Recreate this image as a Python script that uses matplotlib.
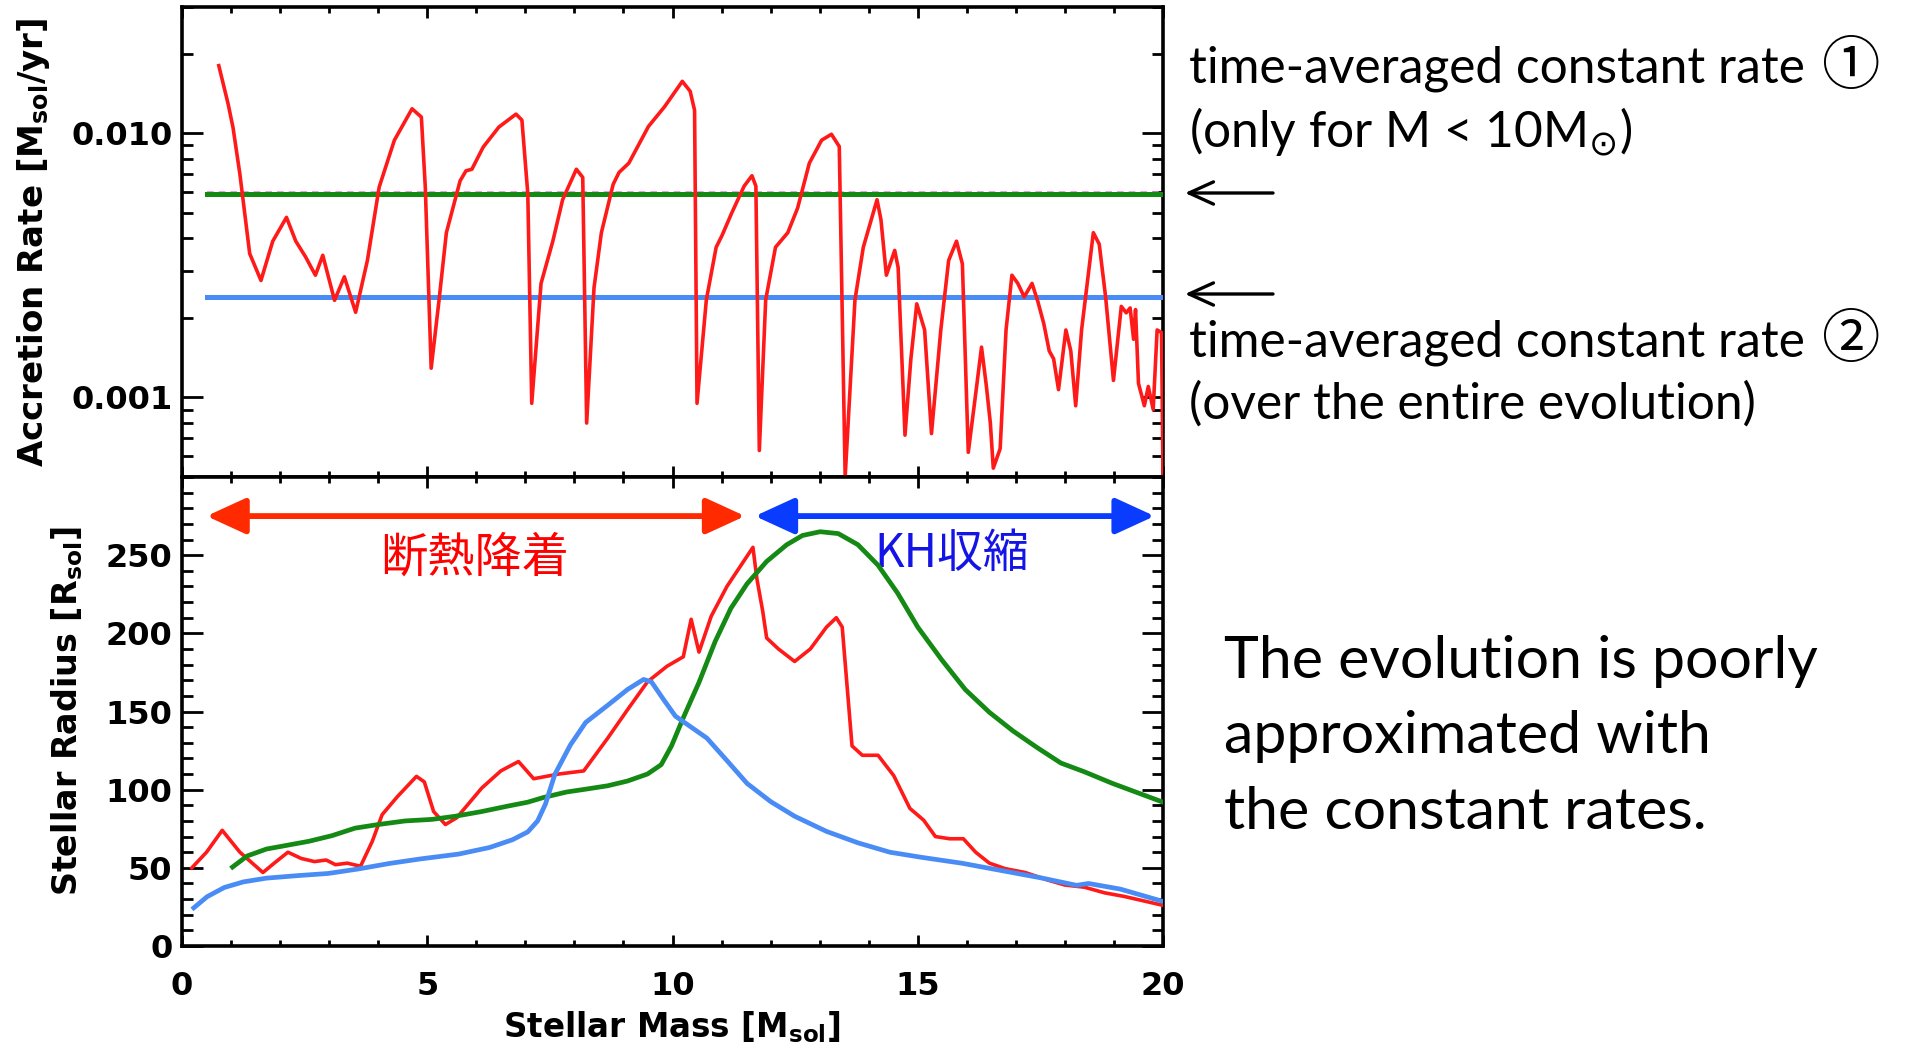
import matplotlib.pyplot as plt
from matplotlib.ticker import MultipleLocator, LogLocator, FixedLocator, NullFormatter
from matplotlib.patches import FancyArrowPatch

# ---- top panel: accretion rate [Msun/yr] vs stellar mass [Msun]
rate_mass = [0.75, 0.94, 1.04, 1.18, 1.38, 1.61, 1.85, 2.13, 2.32, 2.52, 2.72, 2.87, 3.11, 3.31,
             3.54, 3.78, 4.02, 4.33, 4.69, 4.88, 4.96, 5.08, 5.24, 5.39, 5.67, 5.79, 5.91, 6.14,
             6.46, 6.81, 6.93, 7.05, 7.13, 7.32, 7.56, 7.76, 8.04, 8.17, 8.25, 8.40, 8.55, 8.79,
             8.91, 9.11, 9.51, 9.84, 10.20, 10.36, 10.45, 10.50, 10.69, 10.89, 11.01, 11.21,
             11.46, 11.62, 11.70, 11.77, 11.90, 12.10, 12.35, 12.55, 12.79, 13.04, 13.24, 13.40,
             13.52, 13.72, 13.89, 14.17, 14.25, 14.36, 14.53, 14.60, 14.74, 14.86, 14.98, 15.14,
             15.28, 15.47, 15.63, 15.79, 15.91, 16.03, 16.20, 16.30, 16.40, 16.48, 16.54, 16.68,
             16.80, 16.92, 17.04, 17.17, 17.33, 17.45, 17.57, 17.68, 17.77, 17.87, 18.02, 18.12,
             18.22, 18.34, 18.58, 18.70, 18.83, 18.99, 19.15, 19.25, 19.33, 19.40, 19.44, 19.50,
             19.62, 19.70, 19.80, 19.88, 19.97, 20.0]
rate_val = [0.0180, 0.0129, 0.0105, 0.0070, 0.0035, 0.00277, 0.0039, 0.0048, 0.0039, 0.0034,
            0.0029, 0.00345, 0.00233, 0.00286, 0.0021, 0.0033, 0.00625, 0.0094, 0.01236, 0.0115,
            0.00625, 0.00129, 0.00233, 0.0042, 0.0066, 0.0072, 0.0073, 0.00885, 0.01054, 0.0118,
            0.0112, 0.0059, 0.00095, 0.0027, 0.0039, 0.0056, 0.0073, 0.0068, 0.0008, 0.0026,
            0.0042, 0.0064, 0.0071, 0.0077, 0.0106, 0.0126, 0.0157, 0.0144, 0.0122, 0.00095,
            0.00234, 0.0037, 0.0041, 0.0050, 0.0063, 0.0069, 0.0063, 0.00063, 0.00234, 0.0037,
            0.0042, 0.0052, 0.0077, 0.0094, 0.0099, 0.0089, 0.0005, 0.00234, 0.0037, 0.0056,
            0.0047, 0.0029, 0.0036, 0.0031, 0.00072, 0.0014, 0.00226, 0.0018, 0.00073, 0.0018,
            0.0033, 0.0039, 0.0032, 0.00062, 0.0011, 0.00155, 0.0011, 0.0008, 0.00054, 0.00064,
            0.0018, 0.0029, 0.0027, 0.0024, 0.0027, 0.0023, 0.0019, 0.0015, 0.0014, 0.00107,
            0.0018, 0.0015, 0.00093, 0.0018, 0.0042, 0.0038, 0.0024, 0.00116, 0.00221, 0.00209,
            0.00218, 0.00166, 0.00215, 0.00113, 0.00093, 0.0011, 0.0009, 0.0018, 0.00176, 0.0005]
const_mass = [0.5, 20.0]
rate_const1 = [0.0059, 0.0059]   # time-averaged, M < 10 Msun
rate_const2 = [0.0024, 0.0024]   # time-averaged, entire evolution

# ---- bottom panel: stellar radius [Rsun]
red_mass = [0.2, 0.5, 0.82, 1.18, 1.65, 1.88, 2.16, 2.43, 2.7, 2.94, 3.13, 3.37, 3.64, 3.88,
            4.08, 4.39, 4.78, 4.94, 5.13, 5.37, 5.6, 6.11, 6.5, 6.86, 7.17, 7.68, 8.19, 8.68,
            9.08, 9.49, 9.89, 10.22, 10.38, 10.54, 10.79, 11.11, 11.47, 11.64, 11.72, 11.84,
            11.92, 12.16, 12.49, 12.81, 13.14, 13.34, 13.46, 13.66, 13.87, 14.19, 14.51, 14.84,
            15.12, 15.36, 15.65, 15.93, 16.18, 16.46, 16.78, 17.19, 17.67, 18.0, 18.4, 18.81,
            19.21, 20.0]
red_rad = [50, 60, 74, 60, 47, 53, 60, 56, 54, 55, 52, 53, 51, 67, 84, 95.5, 108.5, 105, 86,
           77.7, 82, 101, 112, 118, 107, 110, 112, 133, 151, 169, 179, 185, 209, 188, 211, 230,
           247, 255, 235, 214, 197, 190, 182, 190, 204, 210, 204, 128, 122, 122, 109, 88, 80.5,
           70, 68.6, 68.6, 60, 53, 49.5, 47, 42, 39, 37.6, 34, 31.7, 26]
green_mass = [1.03, 1.33, 1.72, 2.19, 2.59, 3.06, 3.53, 4.0, 4.55, 5.1, 5.57, 6.11, 6.66, 7.05,
              7.37, 7.84, 8.27, 8.68, 9.08, 9.49, 9.77, 9.98, 10.22, 10.54, 10.87, 11.19, 11.52,
              11.92, 12.33, 12.65, 13.01, 13.38, 13.78, 14.19, 14.59, 15.0, 15.49, 15.97, 16.46,
              16.94, 17.43, 17.92, 18.4, 18.97, 20.0]
green_rad = [50.5, 57.6, 62, 64.7, 67, 70.6, 75.4, 77.7, 80, 81, 83, 86, 89.6, 92, 95, 98.5,
             100.5, 102.5, 105.5, 110, 116, 128, 146, 168.6, 194.8, 216, 231.7, 246, 256.7,
             262.6, 265, 263.8, 256.7, 243.6, 225.7, 204, 183, 164, 149.5, 137.6, 127, 117,
             111.4, 104, 92]
blue_mass = [0.24, 0.51, 0.86, 1.25, 1.72, 2.35, 2.98, 3.6, 4.23, 4.86, 5.64, 6.27, 6.74, 7.05,
             7.25, 7.41, 7.6, 7.92, 8.23, 8.68, 9.08, 9.41, 9.57, 9.81, 10.06, 10.38, 10.7,
             11.11, 11.52, 12.0, 12.49, 13.14, 13.78, 14.43, 15.08, 15.89, 16.7, 17.51, 18.24,
             18.48, 19.13, 20.0]
blue_rad = [24.4, 31.5, 37.4, 41, 43.4, 45, 46.4, 49.3, 52.8, 55.7, 58.8, 63, 68, 73, 80, 90.8,
            109.7, 128.7, 143, 154, 164, 170.5, 169, 158, 147, 140, 133, 118.6, 104, 92.4, 83,
            73.3, 66, 60, 56.7, 53, 48.3, 43.6, 38.8, 40, 36.4, 28.5]

ytick_rate = [0.001, 0.01]
ytick_rate_labels = ['0.001', '0.010']
ytick_rad = [0, 50, 100, 150, 200, 250]
xtick_mass = [0, 5, 10, 15, 20]

RED = '#ff1a1a'
GREEN = '#148a14'
BLUE = '#4a8cf5'

W, H = 1906, 1050
fig = plt.figure(figsize=(W / 100, H / 100), dpi=100)
ax1 = fig.add_axes([182 / W, 1 - 477 / H, 981 / W, 470 / H])
ax2 = fig.add_axes([182 / W, 1 - 946 / H, 981 / W, 469 / H])

ax1.plot(const_mass, [v * 1.015 for v in rate_const1], color='violet', lw=1.2, ls=(0, (4, 3)), zorder=2)
ax1.plot(const_mass, rate_const1, color=GREEN, lw=3.6, zorder=3)
ax1.plot(const_mass, rate_const2, color=BLUE, lw=3.6, zorder=3)
ax1.plot(rate_mass, rate_val, color=RED, lw=2.6, zorder=4, clip_on=True)

ax2.plot(red_mass, red_rad, color=RED, lw=2.6, zorder=3)
ax2.plot(green_mass, green_rad, color=GREEN, lw=3.4, zorder=4)
ax2.plot(blue_mass, blue_rad, color=BLUE, lw=3.4, zorder=4)

ax1.set_yscale('log')
ax1.set_ylim(5e-4, 0.03)
ax1.yaxis.set_major_locator(FixedLocator(ytick_rate))
ax1.set_yticklabels(ytick_rate_labels)
ax1.yaxis.set_minor_locator(LogLocator(base=10, subs=range(2, 10), numticks=20))
ax1.yaxis.set_minor_formatter(NullFormatter())
ax1.set_xticklabels([])

ax2.set_ylim(0, 300)
ax2.yaxis.set_major_locator(FixedLocator(ytick_rad))
ax2.yaxis.set_minor_locator(MultipleLocator(10))

for ax in (ax1, ax2):
    ax.set_xlim(0, 20)
    ax.xaxis.set_major_locator(FixedLocator(xtick_mass))
    ax.xaxis.set_minor_locator(MultipleLocator(1))
    ax.tick_params(which='both', direction='in', top=True, right=True, width=2.0, colors='black')
    ax.tick_params(axis='x', which='major', length=8, pad=18, labelsize=23)
    ax.tick_params(axis='x', which='minor', length=4.5)
    ax.tick_params(axis='y', which='major', length=15, pad=7, labelsize=23)
    ax.tick_params(axis='y', which='minor', length=8)
    for s in ax.spines.values():
        s.set_linewidth(2.6)
    for lab in ax.get_xticklabels() + ax.get_yticklabels():
        lab.set_fontweight('bold')

# axis titles
fig.text(34 / W, 1 - 242 / H, r'Accretion Rate [M$_\mathbf{sol}$/yr]', rotation=90,
         ha='center', va='center', fontsize=24.5, fontweight='bold')
fig.text(67 / W, 1 - 711 / H, r'Stellar Radius [R$_\mathbf{sol}$]', rotation=90,
         ha='center', va='center', fontsize=24, fontweight='bold')
fig.text(672 / W, 1 - 1027 / H, r'Stellar Mass [M$_\mathbf{sol}$]',
         ha='center', va='center', fontsize=23.5, fontweight='bold')

# phase arrows in the radius panel
ax2.add_patch(FancyArrowPatch((0.5, 275), (11.48, 275), arrowstyle='<|-|>,head_length=1.2,head_width=0.55',
                              mutation_scale=20, color='#ff2a00', lw=4.2, shrinkA=0, shrinkB=0, zorder=5))
ax2.add_patch(FancyArrowPatch((11.68, 275), (19.83, 275), arrowstyle='<|-|>,head_length=1.2,head_width=0.55',
                              mutation_scale=20, color='#0a3cff', lw=4.2, shrinkA=0, shrinkB=0, zorder=5))
cjk = ['Noto Sans CJK JP', 'DejaVu Sans']
ax2.text(5.96, 248, '断熱降着', color='#ff0000', fontsize=34, ha='center', va='center', family=cjk)
ax2.text(15.7, 251, 'KH収縮', color='#1414e6', fontsize=33, ha='center', va='center', family=cjk)

# notes on the right
note = ['Lato', 'Noto Sans CJK JP', 'DejaVu Sans']
fig.text(1189 / W, 1 - 83 / H, 'time-averaged constant rate', fontsize=35.7, family=note, va='baseline')
fig.text(1851 / W, 1 - 84 / H, '①', fontsize=42, family=cjk, va='baseline', ha='center')
fig.text(1189 / W, 1 - 147 / H, r'(only for M < 10M$_{\odot}$)', fontsize=35.7, family=note, va='baseline')
fig.text(1189 / W, 1 - 356 / H, 'time-averaged constant rate', fontsize=35.7, family=note, va='baseline')
fig.text(1851 / W, 1 - 357 / H, '②', fontsize=42, family=cjk, va='baseline', ha='center')
fig.text(1189 / W, 1 - 419 / H, '(over the entire evolution)', fontsize=35.7, family=note, va='baseline')
for y in (193, 294):
    fig.add_artist(FancyArrowPatch((1273 / W, 1 - y / H), (1185 / W, 1 - y / H), transform=fig.transFigure,
                                   arrowstyle='->,head_length=1.1,head_width=0.5', mutation_scale=16,
                                   color='black', lw=2.4, shrinkA=0, shrinkB=0))

for y, line in zip((678, 753, 829), ['The evolution is poorly', 'approximated with', 'the constant rates.']):
    fig.text(1224 / W, 1 - y / H, line, fontsize=42.5, family=note, va='baseline')

fig.savefig('out.png', dpi=100)
